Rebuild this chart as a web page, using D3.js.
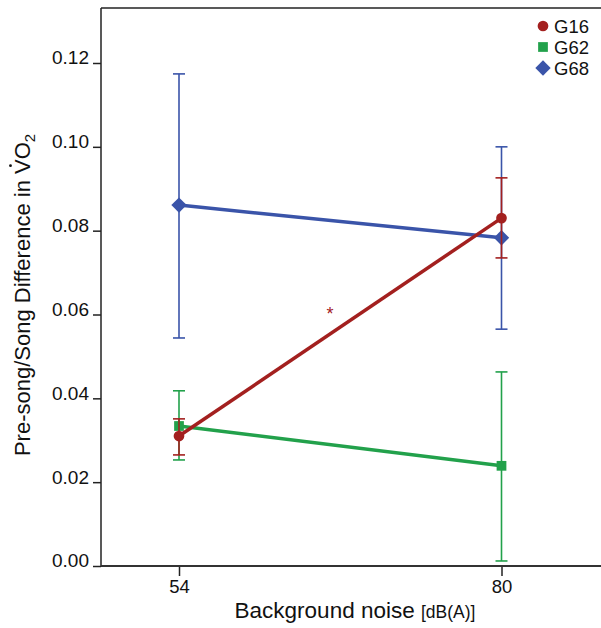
<!DOCTYPE html>
<html><head><meta charset="utf-8">
<script src="https://cdn.jsdelivr.net/npm/d3@7"></script>
<style>body{margin:0;background:#fff}</style>
</head><body><svg id="c" width="601" height="628"></svg>
<script>
const noise = [54, 80];
const series = ["G16", "G62", "G68"];
const g16Mean = [0.0310, 0.0830], g16Hi = [0.0351, 0.0926], g16Lo = [0.0265, 0.0735];
const g62Mean = [0.0334, 0.0239], g62Hi = [0.0418, 0.0463], g62Lo = [0.0253, 0.0012];
const g68Mean = [0.0861, 0.0783], g68Hi = [0.1174, 0.1000], g68Lo = [0.0544, 0.0565];
const yTicks = [0, 0.02, 0.04, 0.06, 0.08, 0.10, 0.12];
const colors = {G16: "#a3201f", G62: "#22a14b", G68: "#3a54a9"};
const diamond = d3.symbolDiamond2 || d3.symbolDiamond;
const data = [
  {name: "G16", mean: g16Mean, hi: g16Hi, lo: g16Lo, shape: d3.symbolCircle, size: 90},
  {name: "G62", mean: g62Mean, hi: g62Hi, lo: g62Lo, shape: d3.symbolSquare, size: 95},
  {name: "G68", mean: g68Mean, hi: g68Hi, lo: g68Lo, shape: diamond, size: 150}
];
const svg = d3.select("#c");
const font = "Helvetica, Arial, 'Liberation Sans', sans-serif";
const pLeft = 101, pTop = 8, pBottom = 566, pRight = 601;
const x = d3.scaleLinear().domain([54, 80]).range([179, 501.5]);
const y = d3.scaleLinear().domain([0, 0.12]).range([pBottom, 63]);

// axes
svg.append("line").attr("x1", pLeft).attr("x2", pLeft).attr("y1", pTop).attr("y2", pBottom).attr("stroke", "#222").attr("stroke-width", 1.5);
svg.append("line").attr("x1", pLeft).attr("x2", pRight).attr("y1", pTop).attr("y2", pTop).attr("stroke", "#222").attr("stroke-width", 1.5);
const yAx = svg.append("g").attr("transform", `translate(${pLeft},0)`)
  .call(d3.axisLeft(y).tickValues(yTicks).tickFormat(d3.format(".2f")).tickSize(8).tickPadding(4));
yAx.select(".domain").remove();
yAx.selectAll("line").attr("stroke", "#222").attr("stroke-width", 1.5);
yAx.selectAll("text").attr("font-family", font).attr("font-size", 19).attr("fill", "#111").attr("dy", "0.05em");
const xAx = svg.append("g").attr("transform", `translate(0,${pBottom})`)
  .call(d3.axisBottom(x).tickValues(noise).tickFormat(d3.format("d")).tickSize(10).tickPadding(4));
xAx.select(".domain").remove();
svg.append("line").attr("x1", pLeft).attr("x2", pRight).attr("y1", pBottom).attr("y2", pBottom).attr("stroke", "#333").attr("stroke-width", 2);
xAx.selectAll("line").attr("stroke", "#222").attr("stroke-width", 1.5);
xAx.selectAll("text").attr("font-family", font).attr("font-size", 18.5).attr("fill", "#111");

// labels
const xl = svg.append("text").attr("x", 355).attr("y", 618).attr("text-anchor", "middle")
  .attr("font-family", font).attr("font-size", 22.5).attr("fill", "#111");
xl.append("tspan").text("Background noise ");
xl.append("tspan").attr("font-size", 17.5).text("[dB(A)]");
const ylg = svg.append("g").attr("transform", "translate(30,295) rotate(-90)");
const yl = ylg.append("text").attr("text-anchor", "middle")
  .attr("font-family", font).attr("font-size", 22).attr("fill", "#111");
const ylMain = "Pre-song/Song Difference in VO";
yl.append("tspan").text(ylMain);
yl.append("tspan").attr("font-size", 15).attr("dy", 5).text("2");
try {
  const ext = yl.node().getExtentOfChar(ylMain.indexOf("VO"));
  ylg.append("circle").attr("cx", ext.x + ext.width / 2 + 1).attr("cy", -19.5).attr("r", 1.4).attr("fill", "#111");
} catch (e) {}

// series
const order = ["G62", "G68", "G16"];
order.forEach(n => {
  const s = data.find(d => d.name === n);
  const c = colors[n];
  const g = svg.append("g");
  noise.forEach((v, i) => {
    g.append("line").attr("x1", x(v)).attr("x2", x(v)).attr("y1", y(s.hi[i])).attr("y2", y(s.lo[i])).attr("stroke", c).attr("stroke-width", 1.6);
    [s.hi[i], s.lo[i]].forEach(e => g.append("line").attr("x1", x(v) - 6).attr("x2", x(v) + 6).attr("y1", y(e)).attr("y2", y(e)).attr("stroke", c).attr("stroke-width", 1.6));
  });
  g.append("path").attr("d", d3.line().x((d, i) => x(noise[i])).y(d => y(d))(s.mean))
    .attr("stroke", c).attr("stroke-width", 3.5).attr("fill", "none");
  noise.forEach((v, i) => {
    g.append("path").attr("d", d3.symbol().type(s.shape).size(s.size)()).attr("transform", `translate(${x(v)},${y(s.mean[i])})`).attr("fill", c);
  });
});

// significance star
svg.append("text").attr("x", 330).attr("y", 320).attr("text-anchor", "middle").attr("font-family", font).attr("font-size", 18).attr("fill", colors.G16).text("*");

// legend
data.forEach((s, i) => {
  const ly = 26 + i * 21;
  svg.append("path").attr("d", d3.symbol().type(s.shape).size(s.size)()).attr("transform", `translate(543,${ly})`).attr("fill", colors[s.name]);
  svg.append("text").attr("x", 554).attr("y", ly + 7).attr("font-family", font).attr("font-size", 18.5).attr("fill", "#111").text(s.name);
});
</script></body></html>
